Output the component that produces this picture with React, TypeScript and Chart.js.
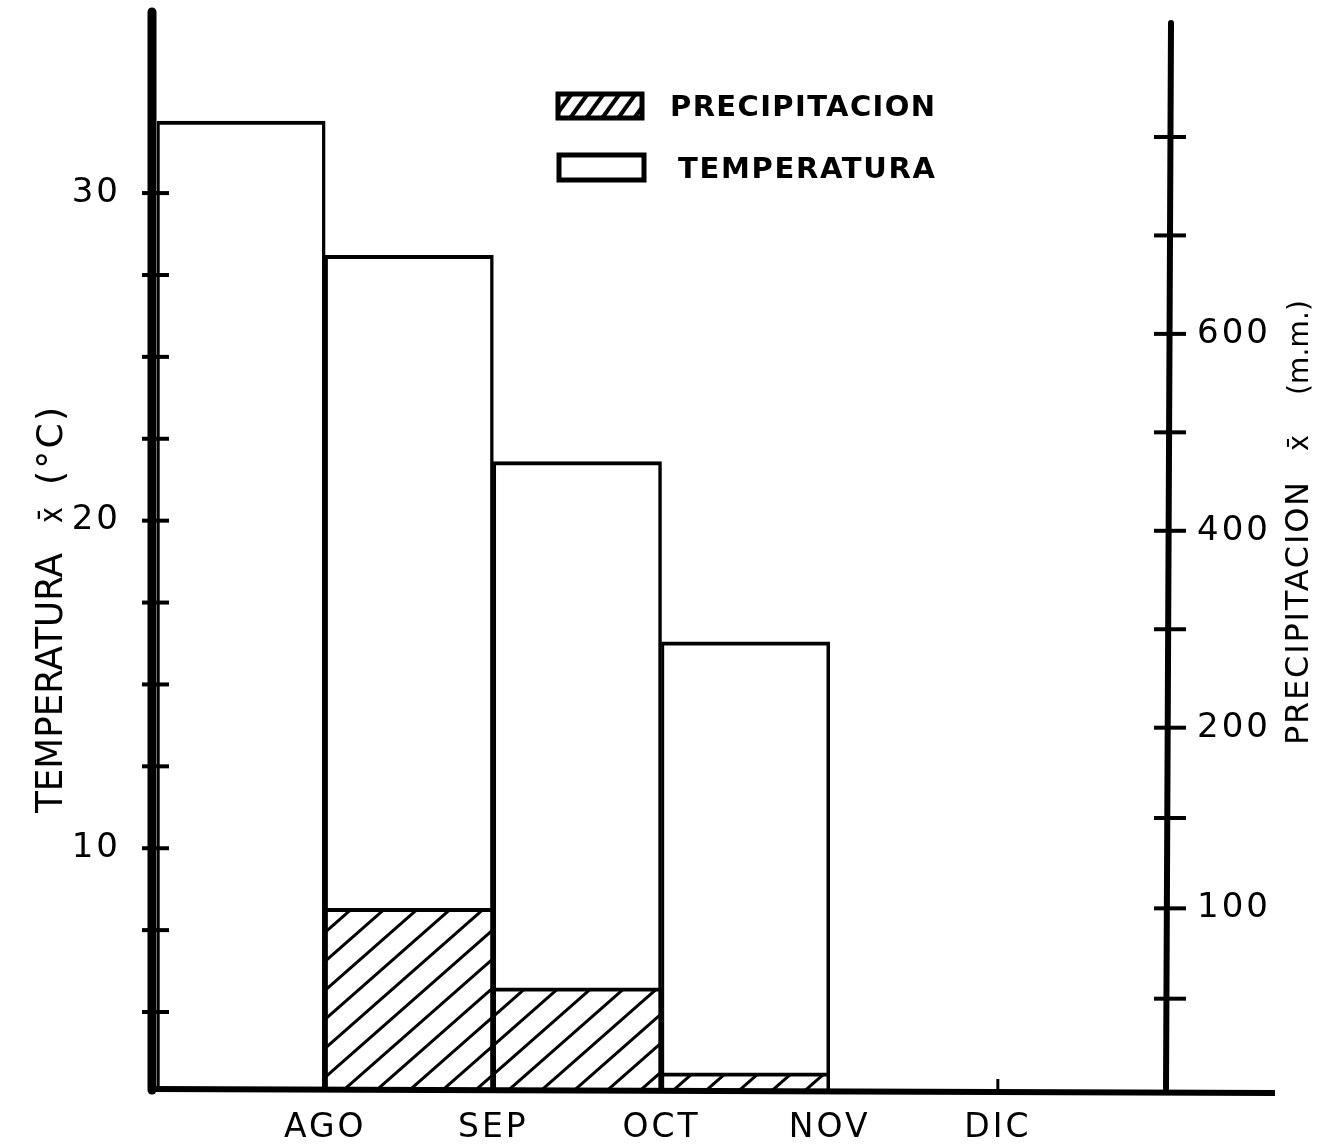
import React, { useEffect, useRef } from 'react';
import { Chart, registerables, LinearScale } from 'chart.js';

// ---------------- data ----------------
const MONTHS = ['JUL', 'AGO', 'SEP', 'OCT', 'NOV', 'DIC', 'ENE'];
const LABELED_MONTHS = ['AGO', 'SEP', 'OCT', 'NOV', 'DIC'];

// each bar covers the month interval that starts at the given month
const TEMP_PERIODS = ['JUL', 'AGO', 'SEP', 'OCT'];
const TEMPERATURA = [32.2, 28.1, 21.8, 16.3];

const PRECIP_PERIODS = ['AGO', 'SEP', 'OCT'];
const PRECIPITACION = [100, 56, 9];

const TEMP_TICKS = [5, 7.5, 10, 12.5, 15, 17.5, 20, 22.5, 25, 27.5, 30];
const TEMP_TICK_LABELS = ['', '', '10', '', '', '', '20', '', '', '', '30'];
const PRECIP_TICKS = [50, 100, 150, 200, 300, 400, 500, 600, 700, 800];
const PRECIP_TICK_LABELS = ['', '100', '', '200', '', '400', '', '600', '', ''];

const TEMP_AXIS_MIN = 2.65;
const TEMP_AXIS_MAX = 35.65;
const PRECIP_AXIS_MAX = 931;
const X_AXIS_MIN = -0.03;

// precipitation axis: 50 mm per division up to 200 mm, then 100 mm per (slightly longer) division
const PRECIP_BREAK = 200;
const PRECIP_LOWER_STEP = 50;
const PRECIP_UPPER_STEP = 100;
const PRECIP_UPPER_DIVISION = 1.09;

const FONT = '"DejaVu Sans", "Liberation Sans", sans-serif';

function precipToUnits(v: number) {
  if (v <= PRECIP_BREAK) return v / PRECIP_LOWER_STEP;
  return PRECIP_BREAK / PRECIP_LOWER_STEP + ((v - PRECIP_BREAK) / PRECIP_UPPER_STEP) * PRECIP_UPPER_DIVISION;
}
function unitsToPrecip(u: number) {
  const b = PRECIP_BREAK / PRECIP_LOWER_STEP;
  if (u <= b) return u * PRECIP_LOWER_STEP;
  return PRECIP_BREAK + ((u - b) / PRECIP_UPPER_DIVISION) * PRECIP_UPPER_STEP;
}

class SegmentedScale extends LinearScale {
  static id = 'segmented';
  static defaults = LinearScale.defaults;
  configure() {
    super.configure();
    const s = precipToUnits(this.min);
    const e = precipToUnits(this.max);
    (this as any)._startValue = s;
    (this as any)._endValue = e;
    (this as any)._valueRange = e - s;
  }
  getPixelForValue(value: number) {
    if (value === null || value === undefined) return NaN;
    return super.getPixelForValue(precipToUnits(value));
  }
  getValueForPixel(pixel: number) {
    return unitsToPrecip(super.getValueForPixel(pixel));
  }
}

Chart.register(...registerables, SegmentedScale as any);

function makeHatch(ctx: CanvasRenderingContext2D, w: number, h: number, lw: number) {
  const c = document.createElement('canvas');
  c.width = w;
  c.height = h;
  const g = c.getContext('2d')!;
  g.fillStyle = '#fff';
  g.fillRect(0, 0, w, h);
  g.strokeStyle = '#000';
  g.lineWidth = lw;
  for (const dx of [-w, 0, w]) {
    g.beginPath();
    g.moveTo(dx - w * 0.2, h * 1.2);
    g.lineTo(dx + w * 1.2, -h * 0.2);
    g.stroke();
  }
  return ctx.createPattern(c, 'repeat')!;
}

function fitText(ctx: CanvasRenderingContext2D, text: string, x: number, y: number, width: number) {
  (ctx as any).letterSpacing = '0px';
  const w = ctx.measureText(text).width;
  const n = Array.from(text).length;
  ctx.save();
  if (w <= width || n < 2) {
    (ctx as any).letterSpacing = ((width - w) / Math.max(n - 1, 1)).toFixed(2) + 'px';
    ctx.fillText(text, x, y);
  } else {
    ctx.translate(x, y);
    ctx.scale(width / w, 1);
    ctx.fillText(text, 0, 0);
  }
  ctx.restore();
}

function line(ctx: CanvasRenderingContext2D, x1: number, y1: number, x2: number, y2: number) {
  ctx.beginPath();
  ctx.moveTo(x1, y1);
  ctx.lineTo(x2, y2);
  ctx.stroke();
}

export default function App() {
  const ref = useRef<HTMLCanvasElement>(null);

  useEffect(() => {
    const canvas = ref.current!;
    const ctx0 = canvas.getContext('2d')!;
    const hatch = makeHatch(ctx0, 33, 29, 3);
    const legendHatch = makeHatch(ctx0, 16, 22, 4);

    const decorations = {
      id: 'decorations',
      beforeDraw(chart: any) {
        const c = chart.ctx;
        c.save();
        c.fillStyle = '#fff';
        c.fillRect(0, 0, chart.width, chart.height);
        c.restore();
        c.letterSpacing = '3px';
      },
      afterDraw(chart: any) {
        const c: CanvasRenderingContext2D = chart.ctx;
        const a = chart.chartArea;
        const { x, y, y2 } = chart.scales;
        (c as any).letterSpacing = '0px';
        c.save();
        c.strokeStyle = '#000';
        c.fillStyle = '#000';

        // axis lines
        c.lineCap = 'round';
        c.lineWidth = 9;
        line(c, a.left, a.top + 4, a.left, a.bottom + 1);
        c.lineWidth = 6;
        line(c, a.right + 5, a.top + 15, a.right, a.bottom);
        c.lineCap = 'butt';
        c.lineWidth = 6;
        line(c, a.left, a.bottom, a.right + 109, a.bottom + 4);

        // tick marks crossing the axes
        c.lineWidth = 4;
        y.ticks.forEach((_: any, i: number) => {
          const py = y.getPixelForTick(i);
          line(c, a.left - 10, py, a.left + 17, py);
        });
        y2.ticks.forEach((_: any, i: number) => {
          const py = y2.getPixelForTick(i);
          line(c, a.right - 12, py, a.right + 20, py);
        });
        c.lineWidth = 3;
        x.ticks.forEach((t: any, i: number) => {
          if (MONTHS[t.value] !== 'DIC') return;
          const px = x.getPixelForTick(i);
          line(c, px, a.bottom, px, a.bottom - 10);
        });

        // legend
        const ds = chart.data.datasets;
        const items = [
          { d: ds[1], fill: legendHatch, box: [558, 94, 84, 24], tx: 670, ty: 106, tw: 265 },
          { d: ds[0], fill: '#fff', box: [559, 155, 85, 25], tx: 678, ty: 168, tw: 257 },
        ];
        c.font = `bold 29px ${FONT}`;
        c.textBaseline = 'middle';
        c.textAlign = 'left';
        items.forEach((it) => {
          const [bx, by, bw, bh] = it.box;
          c.fillStyle = it.fill as any;
          c.fillRect(bx, by, bw, bh);
          c.lineWidth = 5;
          c.strokeStyle = '#000';
          c.strokeRect(bx, by, bw, bh);
          c.fillStyle = '#000';
          fitText(c, it.d.label, it.tx, it.ty + 2, it.tw);
        });

        // axis titles
        c.textBaseline = 'alphabetic';
        c.save();
        c.translate(62, 813);
        c.rotate(-Math.PI / 2);
        c.font = `38px ${FONT}`;
        fitText(c, 'TEMPERATURA', 0, 0, 260);
        c.font = `32px ${FONT}`;
        fitText(c, 'x\u0304', 290, 0, 16);
        c.font = `36px ${FONT}`;
        fitText(c, '(°C)', 328, 0, 78);
        c.restore();

        c.save();
        c.translate(1308, 745);
        c.rotate(-Math.PI / 2);
        c.font = `32px ${FONT}`;
        fitText(c, 'PRECIPITACION', 0, 0, 263);
        c.font = `28px ${FONT}`;
        fitText(c, 'x\u0304', 294, 0, 16);
        c.font = `28px ${FONT}`;
        fitText(c, '(m.m.)', 350, 0, 95);
        c.restore();

        c.restore();
      },
    };

    const monthPos = (m: string) => MONTHS.indexOf(m) + 0.5;
    const barBorder = { top: 4, left: 3, right: 3.5, bottom: 0 };

    const chart = new Chart(canvas, {
      type: 'bar',
      data: {
        datasets: [
          {
            label: 'TEMPERATURA',
            data: TEMP_PERIODS.map((m, i) => ({ x: monthPos(m), y: TEMPERATURA[i] })),
            backgroundColor: '#fff',
            borderColor: '#000',
            borderWidth: barBorder,
            borderSkipped: 'start',
            grouped: false,
            barPercentage: 1,
            categoryPercentage: 1,
            xAxisID: 'x',
            yAxisID: 'y',
            order: 1,
          },
          {
            label: 'PRECIPITACION',
            data: PRECIP_PERIODS.map((m, i) => ({ x: monthPos(m), y: PRECIPITACION[i] })),
            backgroundColor: hatch,
            borderColor: '#000',
            borderWidth: barBorder,
            borderSkipped: 'start',
            grouped: false,
            barPercentage: 1,
            categoryPercentage: 1,
            xAxisID: 'x',
            yAxisID: 'y2',
            order: 0,
          },
        ],
      } as any,
      options: {
        animation: false,
        responsive: false,
        devicePixelRatio: 1,
        events: [],
        layout: { padding: { top: 8, left: 0, right: 0, bottom: 0 } },
        plugins: {
          legend: { display: false },
          tooltip: { enabled: false },
          title: { display: false },
        },
        scales: {
          x: {
            type: 'linear',
            position: 'bottom',
            min: X_AXIS_MIN,
            max: MONTHS.length - 1,
            bounds: 'data',
            offset: false,
            grid: { display: false, drawTicks: false, offset: false },
            border: { display: false },
            afterBuildTicks: (s: any) => {
              s.ticks = MONTHS.map((_, i) => ({ value: i }));
            },
            ticks: {
              autoSkip: false,
              maxRotation: 0,
              padding: 20,
              color: '#000',
              font: { family: FONT, size: 33 },
              callback: (v: any) => (LABELED_MONTHS.includes(MONTHS[v]) ? MONTHS[v] : ''),
            },
            afterFit: (s: any) => {
              s.height = 58;
              s.paddingLeft = 0;
              s.paddingRight = 0;
            },
          },
          y: {
            type: 'linear',
            position: 'left',
            min: TEMP_AXIS_MIN,
            max: TEMP_AXIS_MAX,
            bounds: 'data',
            grid: { display: false, drawTicks: false },
            border: { display: false },
            afterBuildTicks: (s: any) => {
              s.ticks = TEMP_TICKS.map((v) => ({ value: v }));
            },
            ticks: {
              autoSkip: false,
              padding: 31,
              color: '#000',
              font: { family: FONT, size: 34 },
              callback: (_v: any, i: number) => TEMP_TICK_LABELS[i],
            },
            afterFit: (s: any) => {
              s.width = 152;
              s.paddingTop = 0;
              s.paddingBottom = 0;
            },
          },
          y2: {
            type: 'segmented',
            position: 'right',
            min: 0,
            max: PRECIP_AXIS_MAX,
            bounds: 'data',
            grid: { display: false, drawTicks: false },
            border: { display: false },
            afterBuildTicks: (s: any) => {
              s.ticks = PRECIP_TICKS.map((v) => ({ value: v }));
            },
            ticks: {
              autoSkip: false,
              padding: 31,
              color: '#000',
              font: { family: FONT, size: 34 },
              callback: (_v: any, i: number) => PRECIP_TICK_LABELS[i],
            },
            afterFit: (s: any) => {
              s.width = 162;
              s.paddingTop = 0;
              s.paddingBottom = 0;
            },
          },
        } as any,
      },
      plugins: [decorations],
    });

    return () => chart.destroy();
  }, []);

  return (
    <div style={{ position: 'fixed', left: 0, top: 0, width: 1328, height: 1147, background: '#fff' }}>
      <canvas ref={ref} width={1328} height={1147} style={{ display: 'block', width: 1328, height: 1147 }} />
    </div>
  );
}
